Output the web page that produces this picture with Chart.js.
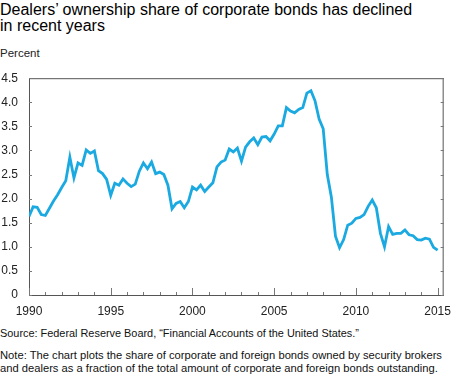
<!DOCTYPE html>
<html>
<head>
<meta charset="utf-8">
<script src="https://cdn.jsdelivr.net/npm/chart.js@4"></script>
<style>
  body { margin: 0; width: 460px; height: 376px; background: #fff; position: relative; overflow: hidden;
         font-family: "Liberation Sans", Arial, sans-serif; color: #111; }
  .txt { position: absolute; left: 0; white-space: nowrap; }
  #title { top: 2px; font-size: 16px; line-height: 16px; color: #000; }
  #unit { top: 47px; font-size: 11.5px; color: #222; }
  #source { top: 327px; font-size: 10.9px; color: #111; }
  #note { top: 349px; font-size: 11.2px; line-height: 13px; color: #111; }
  #chart { position: absolute; left: 0; top: 60px; }
</style>
</head>
<body>
<div id="title" class="txt">Dealers’ ownership share of corporate bonds has declined<br>in recent years</div>
<div id="unit" class="txt">Percent</div>
<canvas id="chart" width="460" height="262"></canvas>
<div id="source" class="txt">Source: Federal Reserve Board, “Financial Accounts of the United States.”</div>
<div id="note" class="txt">Note: The chart plots the share of corporate and foreign bonds owned by security brokers<br>and dealers as a fraction of the total amount of corporate and foreign bonds outstanding.</div>

<script>
// quarterly data, first observation 1990 Q1
const startYear = 1990;
const dealerShare = [
    1.63, 1.83, 1.82, 1.67, 1.65, 1.80, 1.95, 2.08, 2.23, 2.37,
    2.86, 2.43, 2.74, 2.69, 3.01, 2.94, 2.99, 2.58, 2.52, 2.40,
    2.07, 2.32, 2.28, 2.41, 2.32, 2.25, 2.30, 2.57, 2.74, 2.62,
    2.76, 2.52, 2.55, 2.50, 2.28, 1.79, 1.90, 1.94, 1.81, 1.94,
    2.24, 2.18, 2.28, 2.15, 2.24, 2.33, 2.66, 2.76, 2.80, 3.03,
    2.97, 3.05, 2.78, 3.07, 3.18, 3.26, 3.12, 3.28, 3.29, 3.20,
    3.34, 3.51, 3.51, 3.89, 3.82, 3.78, 3.85, 3.89, 4.19, 4.24,
    4.03, 3.65, 3.45, 2.50, 2.03, 1.22, 0.98, 1.15, 1.45, 1.49,
    1.59, 1.61, 1.67, 1.84, 1.97, 1.81, 1.28, 1.00, 1.42, 1.26,
    1.28, 1.28, 1.35, 1.25, 1.23, 1.15, 1.14, 1.18, 1.16, 0.99,
    0.93
];
const tickYears = [1990, 1991, 1992, 1993, 1994, 1995, 1996, 1997, 1998, 1999, 2000, 2001, 2002,
    2003, 2004, 2005, 2006, 2007, 2008, 2009, 2010, 2011, 2012, 2013, 2014, 2015];
const labelYears = [1990, 1995, 2000, 2005, 2010, 2015];
const yTicks = [0, 0.5, 1.0, 1.5, 2.0, 2.5, 3.0, 3.5, 4.0, 4.5];

const points = dealerShare.map((v, i) => ({ x: startYear + i / 4, y: v }));

// box round the plot and inward tick marks
const frame = {
    id: 'frame',
    afterDraw(chart) {
        const { ctx, chartArea: a, scales } = chart;
        ctx.save();
        ctx.strokeStyle = '#555';
        ctx.lineWidth = 1;
        ctx.beginPath();
        ctx.moveTo(a.left, a.top + 0.5);
        ctx.lineTo(a.right, a.top + 0.5);
        ctx.moveTo(a.right - 0.5, a.top);
        ctx.lineTo(a.right - 0.5, a.bottom);
        ctx.stroke();

        ctx.strokeStyle = '#777';
        ctx.beginPath();
        tickYears.forEach(yr => {
            const x = Math.round(scales.x.getPixelForValue(yr)) + 0.5;
            const len = labelYears.includes(yr) ? 7 : 3;
            ctx.moveTo(x, a.bottom);
            ctx.lineTo(x, a.bottom - len);
        });
        yTicks.forEach(v => {
            const y = Math.round(scales.y.getPixelForValue(v)) + 0.5;
            ctx.moveTo(a.left, y);
            ctx.lineTo(a.left + 3, y);
            ctx.moveTo(a.right, y);
            ctx.lineTo(a.right - 3, y);
        });
        ctx.stroke();
        ctx.restore();
    }
};

new Chart(document.getElementById('chart').getContext('2d'), {
    type: 'line',
    data: {
        datasets: [{
            data: points,
            borderColor: '#1aa9e0',
            borderWidth: 2.8,
            pointRadius: 0,
            tension: 0,
            fill: false
        }]
    },
    options: {
        responsive: false,
        animation: false,
        layout: { padding: { top: 12, right: 2, left: 0, bottom: 0 } },
        plugins: { legend: { display: false }, tooltip: { enabled: false } },
        scales: {
            x: {
                type: 'linear',
                min: 1990,
                max: 2015.37,
                afterBuildTicks: scale => { scale.ticks = tickYears.map(v => ({ value: v })); },
                afterFit: scale => { scale.height = 27; },
                grid: { display: false, drawTicks: false },
                border: { color: '#555', width: 1 },
                ticks: {
                    autoSkip: false,
                    maxRotation: 0,
                    padding: 9,
                    color: '#222',
                    font: { family: '"Liberation Sans", Arial, sans-serif', size: 12 },
                    callback: v => labelYears.includes(v) ? String(v) : ''
                }
            },
            y: {
                min: 0,
                max: 4.5,
                afterBuildTicks: scale => { scale.ticks = yTicks.map(v => ({ value: v })); },
                afterFit: scale => { scale.width = 29; },
                grid: { display: false, drawTicks: false },
                border: { color: '#555', width: 1 },
                ticks: {
                    padding: 11,
                    color: '#222',
                    font: { family: '"Liberation Sans", Arial, sans-serif', size: 12 },
                    callback: v => v === 0 ? '0' : v.toFixed(1)
                }
            }
        }
    },
    plugins: [frame]
});
</script>
</body>
</html>
